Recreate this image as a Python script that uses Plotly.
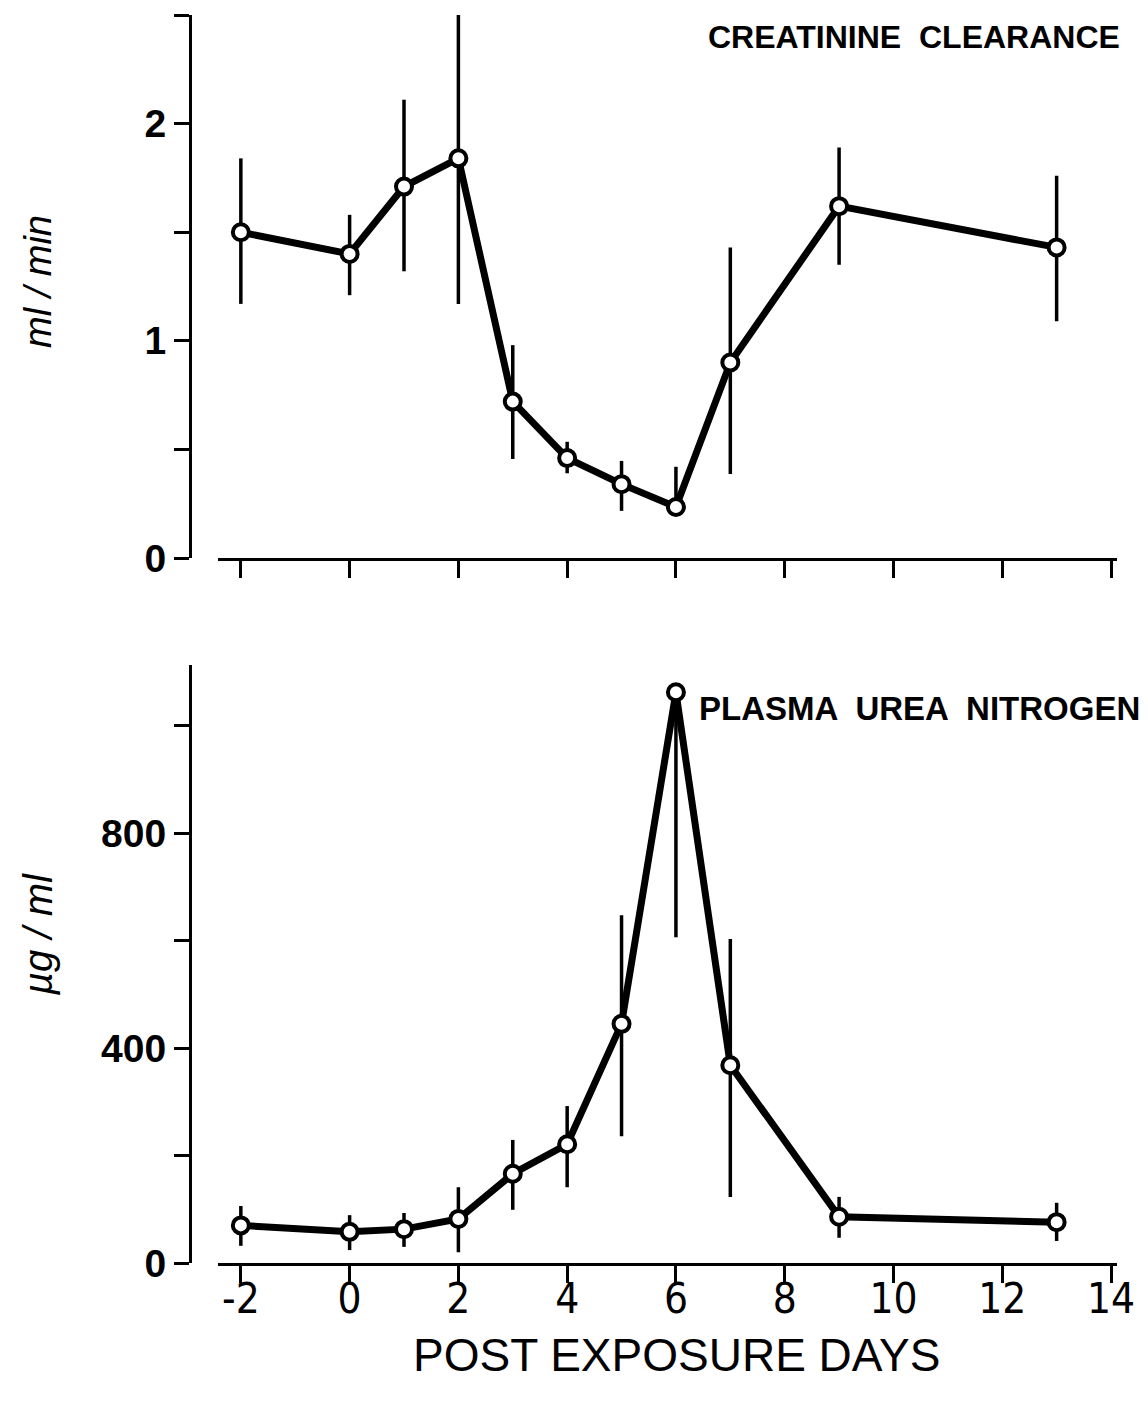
import plotly.graph_objects as go

# ---- data ----
days = [-2, 0, 1, 2, 3, 4, 5, 6, 7, 9, 13]

creat = [1.50, 1.40, 1.71, 1.84, 0.72, 0.46, 0.34, 0.235, 0.90, 1.62, 1.43]
creat_hi = [1.84, 1.58, 2.11, 2.50, 0.98, 0.535, 0.447, 0.42, 1.43, 1.89, 1.76]
creat_lo = [1.17, 1.21, 1.32, 1.17, 0.456, 0.39, 0.217, 0.235, 0.387, 1.35, 1.09]

urea = [70, 58, 63, 82, 166, 221, 445, 1062, 368, 86, 76]
urea_hi = [106, 89, 93, 141, 229, 292, 647, 1062, 603, 123, 112]
urea_lo = [32, 24, 30, 20, 99, 141, 236, 606, 123, 47, 41]

x_ticks = [-2, 0, 2, 4, 6, 8, 10, 12, 14]
x_text = ["-2", "0", "2", "4", "6", "8", "10", "12", "14"]
y1_ticks = [0, 0.5, 1, 1.5, 2, 2.5]
y1_text = ["0", "", "1", "", "2", ""]
y2_ticks = [0, 200, 400, 600, 800, 1000]
y2_text = ["0", "", "400", "", "800", ""]

W, H = 1148, 1401
FONT = "Liberation Sans, Arial, sans-serif"
NARROW = "Liberation Sans Narrow, DejaVu Sans Condensed, Liberation Sans, sans-serif"


def px_x(p):
    return p / W


def px_y(p):
    return 1 - p / H


fig = go.Figure()


def add_series(y, hi, lo, xa, ya):
    fig.add_trace(go.Scatter(
        x=days, y=y, xaxis=xa, yaxis=ya, mode="lines+markers",
        line=dict(color="black", width=7),
        marker=dict(symbol="circle", size=16, color="white",
                    line=dict(color="black", width=4)),
        error_y=dict(type="data", symmetric=False,
                     array=[h - v for h, v in zip(hi, y)],
                     arrayminus=[v - l for v, l in zip(y, lo)],
                     thickness=3.5, width=0, color="black"),
        showlegend=False, cliponaxis=False,
    ))


add_series(creat, creat_hi, creat_lo, "x", "y")
add_series(urea, urea_hi, urea_lo, "x2", "y2")

xdom = [px_x(218), px_x(1117)]
xrange = [-2.42, 14.11]
yax_pos = px_x(190)

common_x = dict(range=xrange, domain=xdom, showline=True, linewidth=3,
                linecolor="black", ticks="outside", ticklen=17, tickwidth=3,
                tickcolor="black", tickvals=x_ticks, ticktext=x_text,
                showgrid=False, zeroline=False, automargin=False)
common_y = dict(showline=True, linewidth=3, linecolor="black",
                ticks="outside", ticklen=15, tickwidth=3, tickcolor="black",
                showgrid=False, zeroline=False, anchor="free",
                position=yax_pos, automargin=False,
                tickfont=dict(family=FONT, size=39, color="black",
                              weight="bold"))

fig.update_layout(
    width=W, height=H,
    margin=dict(l=0, r=0, t=0, b=0),
    paper_bgcolor="white", plot_bgcolor="white",
    template="none",
    xaxis=dict(**common_x, anchor="y", showticklabels=False),
    yaxis=dict(**common_y, range=[0, 2.5],
               domain=[px_y(558), px_y(15)],
               tickvals=y1_ticks, ticktext=y1_text),
    xaxis2=dict(**common_x, anchor="y2", showticklabels=True,
                ticklabelstandoff=-20,
                tickfont=dict(family=NARROW, size=42, color="black")),
    yaxis2=dict(**common_y, range=[0, 1112.6],
                domain=[px_y(1263), px_y(665)],
                tickvals=y2_ticks, ticktext=y2_text),
    annotations=[
        dict(text="POST EXPOSURE DAYS", xref="paper", yref="paper",
             x=px_x(676), y=px_y(1327), xanchor="center", yanchor="top",
             showarrow=False, font=dict(family=FONT, size=46, color="black")),
        dict(text="<b>CREATININE  CLEARANCE</b>", xref="paper", yref="paper",
             x=px_x(1122), y=px_y(37), xanchor="right", yanchor="middle",
             showarrow=False, font=dict(family=FONT, size=32, color="black")),
        dict(text="<b>PLASMA  UREA  NITROGEN</b>", xref="paper", yref="paper",
             x=px_x(697), y=px_y(708), xanchor="left", yanchor="middle",
             showarrow=False, font=dict(family=FONT, size=33, color="black")),
        dict(text="<i>ml / min</i>", xref="paper", yref="paper",
             x=px_x(38), y=px_y(282), xanchor="center", yanchor="middle",
             textangle=-90, showarrow=False,
             font=dict(family=FONT, size=38, color="black")),
        dict(text="<i>µg / ml</i>", xref="paper", yref="paper",
             x=px_x(38), y=px_y(935), xanchor="center", yanchor="middle",
             textangle=-90, showarrow=False,
             font=dict(family=FONT, size=40, color="black")),
    ],
)

fig.write_html("out.html")
